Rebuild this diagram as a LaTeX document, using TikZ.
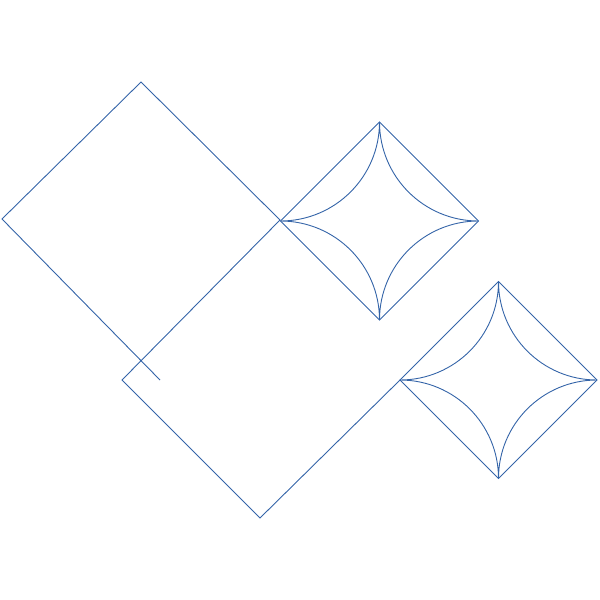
\documentclass[tikz,border=0pt]{standalone}
\definecolor{ln}{RGB}{52,100,168}
\tikzset{stroke/.style={draw=ln, line width=0.9pt, line join=miter}}
\begin{document}
\begin{tikzpicture}[x=1pt,y=-1pt]
\useasboundingbox (0,0) rectangle (600,600);
% open zigzag path of two large squares
\coordinate (p0) at (160,380);
\coordinate (p1) at (2,219);
\coordinate (p2) at (141,82);
\coordinate (p3) at (280,220);
\coordinate (p4) at (122,380);
\coordinate (p5) at (260,518);
\coordinate (p6) at (400,380);
\draw[stroke] (p0) -- (p1) -- (p2) -- (p3) -- (p4) -- (p5) -- (p6);
% small diamonds with concave quarter arcs
\foreach \cx/\cy/\r in {379.5/221/99, 498.5/380/98.5}{
  \pgfmathsetmacro{\k}{0.5523*\r}
  \coordinate (T) at (\cx,{\cy-\r});
  \coordinate (R) at ({\cx+\r},\cy);
  \coordinate (B) at (\cx,{\cy+\r});
  \coordinate (L) at ({\cx-\r},\cy);
  \draw[stroke] (T) -- (R) -- (B) -- (L) -- cycle;
  \draw[stroke] (T) .. controls (\cx,{\cy-\r+\k}) and ({\cx+\r-\k},\cy) .. (R)
                    .. controls ({\cx+\r-\k},\cy) and (\cx,{\cy+\r-\k}) .. (B)
                    .. controls (\cx,{\cy+\r-\k}) and ({\cx-\r+\k},\cy) .. (L)
                    .. controls ({\cx-\r+\k},\cy) and (\cx,{\cy-\r+\k}) .. (T);
}
\end{tikzpicture}
\end{document}
